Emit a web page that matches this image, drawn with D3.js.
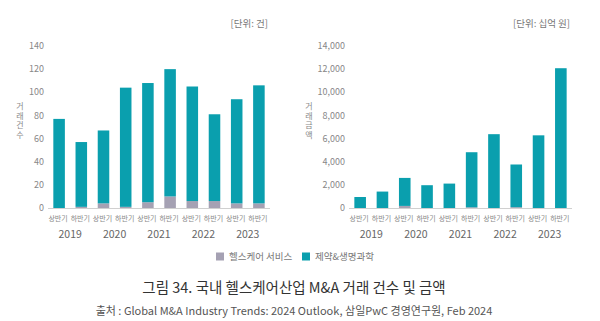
<!DOCTYPE html>
<html>
<head>
<meta charset="utf-8">
<script src="https://cdn.jsdelivr.net/npm/d3@7"></script>
<style>
  body { margin: 0; background: #fff; }
  text { font-family: "Noto Sans CJK KR", "Noto Sans", sans-serif; }
</style>
</head>
<body>
<svg id="chart"></svg>
<script>
// half-year categories
var years = ["2019", "2020", "2021", "2022", "2023"];
var halves = ["상반기", "하반기"];
var periods = ["2019H1","2019H2","2020H1","2020H2","2021H1","2021H2","2022H1","2022H2","2023H1","2023H2"];

// deal counts (건)
var countService = [0, 1, 4, 1, 5, 10, 6, 6, 4, 4];
var countPharma  = [77, 56, 63, 103, 103, 110, 99, 75, 90, 102];
var countTicks = [0, 20, 40, 60, 80, 100, 120, 140];

// deal value (십억 원)
var valueService = [0, 0, 180, 0, 0, 60, 0, 70, 0, 0];
var valuePharma  = [950, 1420, 2420, 1970, 2110, 4760, 6380, 3690, 6280, 12080];
var valueTicks = [0, 2000, 4000, 6000, 8000, 10000, 12000, 14000];

var seriesNames = ["헬스케어 서비스", "제약&생명과학"];
var colors = ["#a5a1b3", "#0a9fae"];

var W = 600, H = 321;
var svg = d3.select("#chart").attr("width", W).attr("height", H);

function panel(opts) {
  var x = d3.scaleBand().domain(periods).range([opts.x0, opts.x1]).paddingInner(0.48).paddingOuter(0.24);
  var y = d3.scaleLinear().domain([0, opts.max]).range([208, 46]);

  var rows = periods.map(function (p, i) {
    return { period: p, service: opts.service[i], pharma: opts.pharma[i] };
  });
  var stack = d3.stack().keys(["service", "pharma"])(rows);

  var g = svg.append("g");

  // tick labels
  g.selectAll(".tick")
    .data(opts.ticks)
    .enter()
    .append("text")
    .attr("x", opts.x0 - 4)
    .attr("y", function (d) { return y(d); })
    .attr("dy", "0.35em")
    .attr("text-anchor", "end")
    .attr("font-size", 9)
    .attr("fill", "#888")
    .text(function (d) { return opts.fmt(d); });

  stack.forEach(function (layer, k) {
    g.selectAll(".bar" + k)
      .data(layer)
      .enter()
      .append("rect")
      .attr("x", function (d) { return x(d.data.period); })
      .attr("width", x.bandwidth())
      .attr("y", function (d) { return y(d[1]); })
      .attr("height", function (d) { return y(d[0]) - y(d[1]); })
      .attr("fill", colors[k]);
  });

  // baseline
  g.append("line")
    .attr("x1", opts.x0).attr("x2", opts.x1)
    .attr("y1", y(0) + 0.5).attr("y2", y(0) + 0.5)
    .attr("stroke", "#d0d0d0");

  // half labels
  g.selectAll(".half")
    .data(periods)
    .enter()
    .append("text")
    .attr("x", function (d) { return x(d) + x.bandwidth() / 2 - 1; })
    .attr("y", 219)
    .attr("dy", "0.35em")
    .attr("text-anchor", "middle")
    .attr("font-size", 7)
    .attr("fill", "#888")
    .text(function (d, i) { return halves[i % 2]; });

  // year labels
  g.selectAll(".year")
    .data(years)
    .enter()
    .append("text")
    .attr("x", function (d) {
      return (x(d + "H1") + x(d + "H2") + x.bandwidth()) / 2;
    })
    .attr("y", 234)
    .attr("dy", "0.35em")
    .attr("text-anchor", "middle")
    .attr("font-size", 10.5)
    .attr("fill", "#666")
    .text(function (d) { return d; });

  // unit label
  g.append("text")
    .attr("x", opts.x1 - 2)
    .attr("y", 24)
    .attr("dy", "0.35em")
    .attr("text-anchor", "end")
    .attr("font-size", 9.5)
    .attr("fill", "#777")
    .text(opts.unit);

  // vertical axis title, one character per line
  g.selectAll(".ytitle")
    .data(opts.title.split(""))
    .enter()
    .append("text")
    .attr("x", opts.titleX)
    .attr("y", function (d, i) { return 106 + i * 9.8; })
    .attr("dy", "0.35em")
    .attr("text-anchor", "middle")
    .attr("font-size", 8)
    .attr("fill", "#888")
    .text(function (d) { return d; });
}

panel({
  x0: 48, x1: 270, max: 140,
  service: countService, pharma: countPharma, ticks: countTicks,
  fmt: d3.format("d"), unit: "[단위: 건]", title: "거래건수", titleX: 20
});

panel({
  x0: 349, x1: 572, max: 14000,
  service: valueService, pharma: valuePharma, ticks: valueTicks,
  fmt: d3.format(","), unit: "[단위: 십억 원]", title: "거래금액", titleX: 309
});

// legend
var legend = svg.append("g");
var legendX = [216, 302];
seriesNames.forEach(function (name, i) {
  legend.append("rect")
    .attr("x", legendX[i]).attr("y", 252.5)
    .attr("width", 8).attr("height", 8)
    .attr("fill", colors[i]);
  legend.append("text")
    .attr("x", legendX[i] + 13)
    .attr("y", 256.5)
    .attr("dy", "0.35em")
    .attr("font-size", 9.5)
    .attr("fill", "#777")
    .text(name);
});

svg.append("text")
  .attr("x", 294).attr("y", 288)
  .attr("dy", "0.35em")
  .attr("text-anchor", "middle")
  .attr("font-size", 14.5)
  .attr("fill", "#333")
  .text("그림 34. 국내 헬스케어산업 M&A 거래 건수 및 금액");

svg.append("text")
  .attr("x", 294).attr("y", 311.5)
  .attr("dy", "0.35em")
  .attr("text-anchor", "middle")
  .attr("font-size", 11)
  .attr("fill", "#555")
  .text("출처 : Global M&A Industry Trends: 2024 Outlook, 삼일PwC 경영연구원, Feb 2024");
</script>
</body>
</html>
